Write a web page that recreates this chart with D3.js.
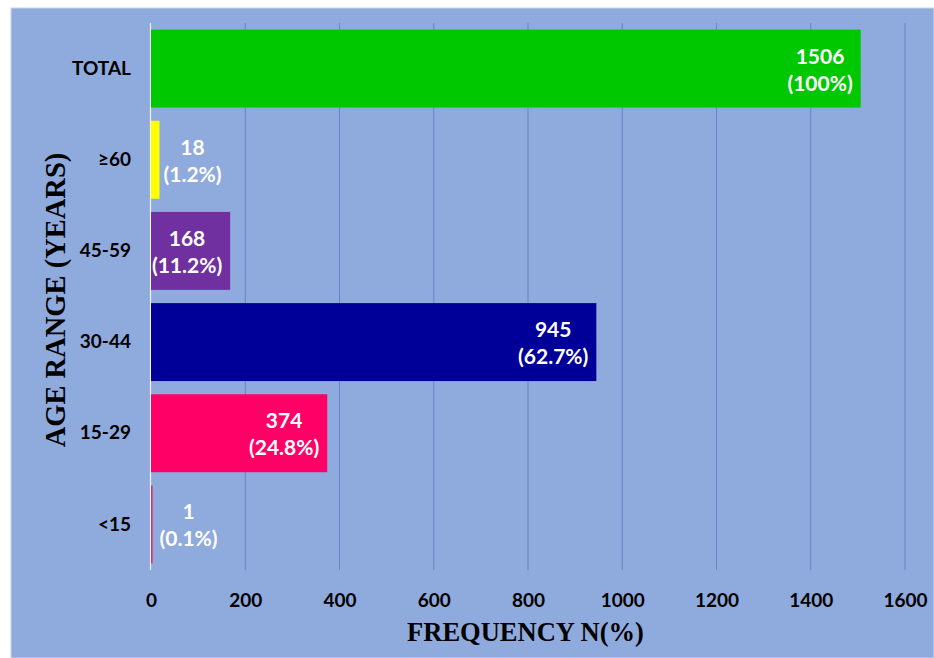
<!DOCTYPE html>
<html>
<head>
<meta charset="utf-8">
<script src="https://cdn.jsdelivr.net/npm/d3@7"></script>
<style>
  html, body { margin: 0; padding: 0; background: #ffffff; }
  svg { display: block; }
</style>
</head>
<body>
<svg id="chart" width="934" height="658"></svg>
<script>
// Age groups, listed top to bottom
const categories = ["TOTAL", "\u226560", "45-59", "30-44", "15-29", "<15"];
const counts = [1506, 18, 168, 945, 374, 1];
const percents = ["100%", "1.2%", "11.2%", "62.7%", "24.8%", "0.1%"];
const barColors = ["#00C800", "#FFFF00", "#7030A0", "#000099", "#FF0066", "#E0307A"];
const xTicks = [0, 200, 400, 600, 800, 1000, 1200, 1400, 1600];

const rows = categories.map((c, i) => ({
  cat: c, n: counts[i], pct: percents[i], color: barColors[i]
}));

const svg = d3.select("#chart");
const W = 934, H = 658;
const bg = "#8FAADC";

// chart background panel
svg.append("rect").attr("x", 11).attr("y", 8).attr("width", W - 11).attr("height", H - 8)
  .attr("fill", bg).attr("stroke", "#c9d3e6").attr("stroke-width", 1);

const plot = { left: 151, right: 905, top: 23, bottom: 570 };

const x = d3.scaleLinear().domain([0, 1600]).range([plot.left, plot.right]);
const y = d3.scaleBand().domain(categories).range([plot.top, plot.bottom])
  .paddingInner(0.145).paddingOuter(0.0725);

const labelFont = "Lato, 'Open Sans', sans-serif";

// vertical gridlines
svg.append("g")
  .selectAll("line")
  .data(xTicks.filter(t => t > 0))
  .join("line")
  .attr("x1", d => x(d)).attr("x2", d => x(d))
  .attr("y1", plot.top).attr("y2", plot.bottom)
  .attr("stroke", "#6685C2").attr("stroke-width", 1);

// category axis line
svg.append("line")
  .attr("x1", x(0) - 0.5).attr("x2", x(0) - 0.5)
  .attr("y1", plot.top).attr("y2", plot.bottom)
  .attr("stroke", "#F2F2F2").attr("stroke-width", 1.2);

// bars (the tiniest ones keep a sliver so they stay visible)
svg.append("g")
  .selectAll("rect")
  .data(rows)
  .join("rect")
  .attr("x", x(0))
  .attr("y", d => y(d.cat))
  .attr("width", d => Math.max(1.6, x(d.n) - x(0)))
  .attr("height", y.bandwidth())
  .attr("fill", d => d.color);

// y axis category labels
const yAxis = d3.axisLeft(y).tickSize(0).tickPadding(20);
const yg = svg.append("g").attr("transform", `translate(${x(0)},0)`).call(yAxis);
yg.select(".domain").remove();
yg.selectAll("text")
  .attr("font-family", labelFont).attr("font-weight", 700)
  .attr("font-size", 19).attr("fill", "#000");

// x axis tick labels
const xAxis = d3.axisBottom(x).tickValues(xTicks).tickSize(0).tickPadding(24).tickFormat(d3.format("d"));
const xg = svg.append("g").attr("transform", `translate(0,${plot.bottom})`).call(xAxis);
xg.select(".domain").remove();
xg.selectAll("text")
  .attr("font-family", labelFont).attr("font-weight", 700)
  .attr("font-size", 19).attr("fill", "#000");

// value labels: count on the first line, share in brackets below
const fs = 21, lineGap = 27, pad = 8;
const lbl = svg.append("g")
  .attr("font-family", labelFont).attr("font-weight", 700)
  .attr("font-size", fs).attr("fill", "#ffffff").attr("text-anchor", "middle");

rows.forEach(d => {
  const g = lbl.append("g");
  const t1 = g.append("text").text(d.n);
  const t2 = g.append("text").text(`(${d.pct})`);
  const bw = Math.max(t1.node().getComputedTextLength(), t2.node().getComputedTextLength());
  const barEnd = x(d.n);
  const inside = (barEnd - x(0)) > bw + pad;
  const cx = inside ? barEnd - pad - bw / 2 : barEnd + (d.n < 10 ? 8 : 4) + bw / 2;
  const cy = y(d.cat) + y.bandwidth() / 2;
  t1.attr("x", cx).attr("y", cy - 5);
  t2.attr("x", cx).attr("y", cy - 5 + lineGap);
});

// axis titles
svg.append("text")
  .attr("x", (408 + 643) / 2).attr("y", 641)
  .attr("text-anchor", "middle")
  .attr("font-family", "'Liberation Serif', 'Times New Roman', serif")
  .attr("font-weight", 700).attr("font-size", 26.5).attr("fill", "#000")
  .text("FREQUENCY N(%)");

svg.append("text")
  .attr("transform", `translate(65,300) rotate(-90)`)
  .attr("text-anchor", "middle")
  .attr("font-family", "'Liberation Serif', 'Times New Roman', serif")
  .attr("font-weight", 700).attr("font-size", 28.5).attr("fill", "#000")
  .text("AGE RANGE (YEARS)");
</script>
</body>
</html>
